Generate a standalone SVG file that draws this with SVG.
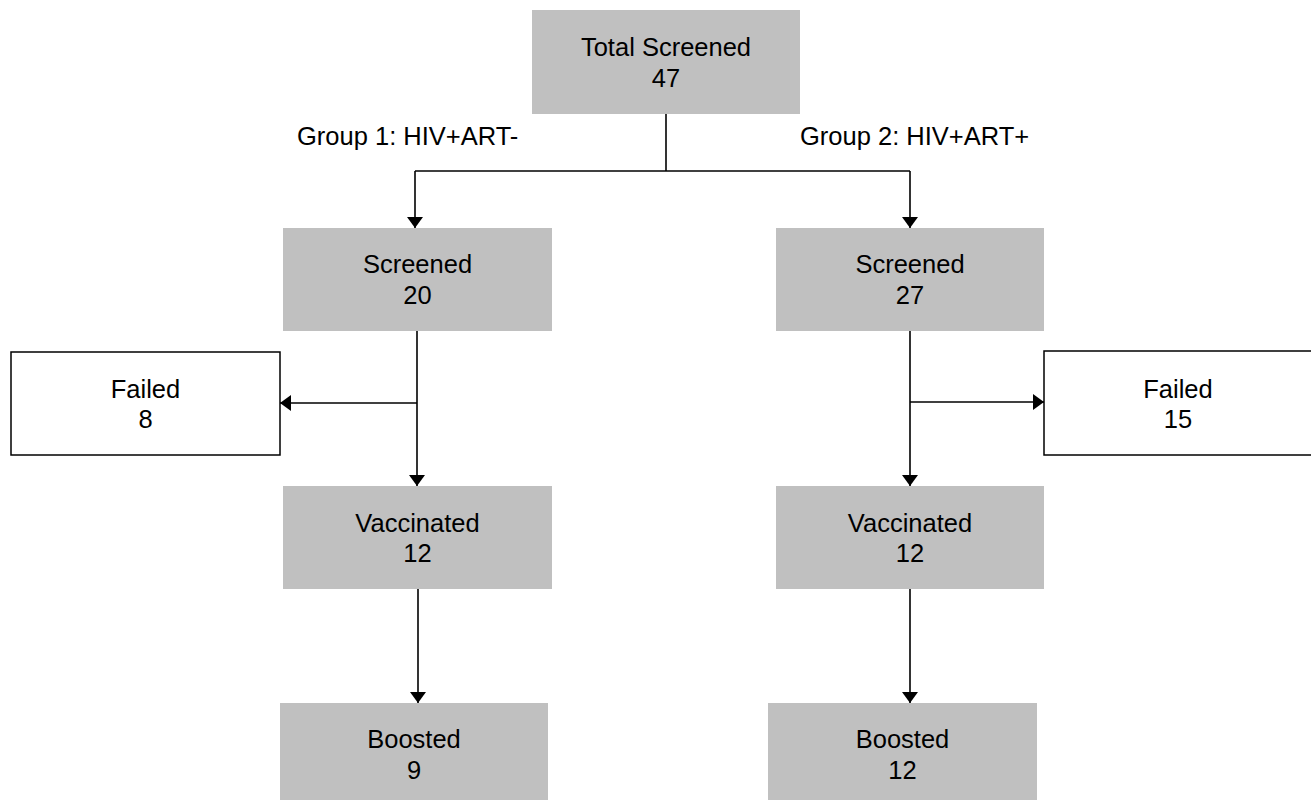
<svg xmlns="http://www.w3.org/2000/svg" width="1311" height="800" viewBox="0 0 1311 800">
<style>
.g{fill:#c0c0c0;stroke:none}
.w{fill:#ffffff;stroke:#000;stroke-width:1.5}
.t{font-family:"Liberation Sans",Arial,sans-serif;font-size:25.5px;fill:#000;text-anchor:middle}
.l{font-family:"Liberation Sans",Arial,sans-serif;font-size:25.5px;fill:#000}
.c{fill:none;stroke:#000;stroke-width:1.6}
</style>
<defs>
<marker id="ah" markerUnits="userSpaceOnUse" markerWidth="11" markerHeight="16" viewBox="0 0 11 16" refX="11" refY="8" orient="auto">
<path d="M0,0 L11,8 L0,16 Z" fill="#000"/>
</marker>
</defs>
<rect width="1311" height="800" fill="#fff"/>
<g id="connectors">
<path class="c" d="M666,114 V171"/>
<path class="c" d="M415,171 H910"/>
<path class="c" d="M415,171 V228" marker-end="url(#ah)"/>
<path class="c" d="M910,171 V228" marker-end="url(#ah)"/>
<path class="c" d="M417,331 V486" marker-end="url(#ah)"/>
<path class="c" d="M417,403 H280" marker-end="url(#ah)"/>
<path class="c" d="M910,331 V486" marker-end="url(#ah)"/>
<path class="c" d="M910,402 H1044" marker-end="url(#ah)"/>
<path class="c" d="M418,589 V703" marker-end="url(#ah)"/>
<path class="c" d="M910,589 V703" marker-end="url(#ah)"/>
</g>
<g id="label-group1"><text class="l" x="297" y="145">Group 1: HIV+ART-</text></g>
<g id="label-group2"><text class="l" x="800" y="145">Group 2: HIV+ART+</text></g>
<g id="total"><rect class="g" x="532" y="10" width="268" height="104"/><text class="t" x="666" y="56">Total Screened</text><text class="t" x="666" y="87">47</text></g>
<g id="screened1"><rect class="g" x="283" y="228" width="269" height="103"/><text class="t" x="417.5" y="273">Screened</text><text class="t" x="417.5" y="304">20</text></g>
<g id="screened2"><rect class="g" x="776" y="228" width="268" height="103"/><text class="t" x="910" y="273">Screened</text><text class="t" x="910" y="304">27</text></g>
<g id="failed1"><rect class="w" x="11" y="352" width="269" height="103"/><text class="t" x="145.5" y="398">Failed</text><text class="t" x="145.5" y="428">8</text></g>
<g id="failed2"><rect class="w" x="1044" y="351" width="269" height="104"/><text class="t" x="1178" y="398">Failed</text><text class="t" x="1178" y="428">15</text></g>
<g id="vacc1"><rect class="g" x="283" y="486" width="269" height="103"/><text class="t" x="417.5" y="532">Vaccinated</text><text class="t" x="417.5" y="562">12</text></g>
<g id="vacc2"><rect class="g" x="776" y="486" width="268" height="103"/><text class="t" x="910" y="532">Vaccinated</text><text class="t" x="910" y="562">12</text></g>
<g id="boost1"><rect class="g" x="280" y="703" width="268" height="105"/><text class="t" x="414" y="748">Boosted</text><text class="t" x="414" y="779">9</text></g>
<g id="boost2"><rect class="g" x="768" y="703" width="269" height="105"/><text class="t" x="902.5" y="748">Boosted</text><text class="t" x="902.5" y="779">12</text></g>
</svg>
